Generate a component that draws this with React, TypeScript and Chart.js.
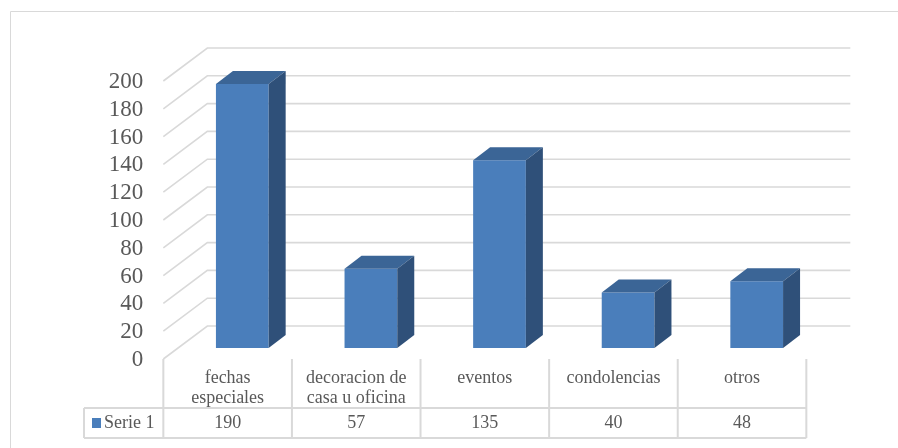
import React, { useEffect, useRef } from 'react';
import { Chart, registerables } from 'chart.js';

Chart.register(...registerables);

const categories: string[][] = [
  ['fechas', 'especiales'],
  ['decoracion de', 'casa u oficina'],
  ['eventos'],
  ['condolencias'],
  ['otros'],
];
const seriesName = 'Serie 1';
const serie1 = [190, 57, 135, 40, 48];
const yTicks = [0, 20, 40, 60, 80, 100, 120, 140, 160, 180, 200];

const FRONT_COLOR = '#4a7ebb';
const TOP_COLOR = '#3b6596';
const SIDE_COLOR = '#2f5079';
const GRID_COLOR = '#d9d9d9';
const TEXT_COLOR = '#595959';
const FONT = "'Liberation Serif', 'Times New Roman', serif";

// floor depth (front edge to back wall) and bar depth
const DX = 44;
const DY = 33;
const BAR_DX = 17;
const BAR_DY = 13;

const threeD = {
  id: 'threeD',
  beforeDatasetsDraw(chart: any) {
    const ctx = chart.ctx as CanvasRenderingContext2D;
    const xs = chart.scales.x;
    const ys = chart.scales.y;
    const fx = DX / 3;
    const fy = DY / 3;
    ctx.save();
    // outer chart border
    ctx.strokeStyle = GRID_COLOR;
    ctx.lineWidth = 1;
    ctx.beginPath();
    ctx.moveTo(10.5, 448);
    ctx.lineTo(10.5, 11.5);
    ctx.lineTo(898, 11.5);
    ctx.stroke();

    const frontLeft = xs.left - fx;
    const frontRight = xs.right - fx;
    // gridlines: diagonal on left wall + back wall
    ctx.lineWidth = 1.6;
    ctx.strokeStyle = GRID_COLOR;
    ctx.font = `23px ${FONT}`;
    ctx.fillStyle = TEXT_COLOR;
    ctx.textAlign = 'right';
    ctx.textBaseline = 'middle';
    for (const v of yTicks) {
      const yb = ys.getPixelForValue(v);
      const yf = yb + fy;
      ctx.beginPath();
      ctx.moveTo(frontLeft, yf);
      ctx.lineTo(frontLeft + DX, yf - DY);
      ctx.lineTo(frontRight + DX, yf - DY);
      ctx.stroke();
      ctx.fillText(String(v), frontLeft - 20, yf + 1);
    }

    // data table
    const colW = (xs.right - xs.left) / categories.length;
    const headTop = ys.getPixelForValue(0) + fy;
    const headBottom = headTop + 49;
    const rowBottom = headBottom + 30;
    const legendLeft = 84;
    ctx.lineWidth = 2;
    ctx.strokeStyle = GRID_COLOR;
    ctx.beginPath();
    for (let i = 0; i <= categories.length; i++) {
      const x = frontLeft + i * colW;
      ctx.moveTo(x, headTop);
      ctx.lineTo(x, rowBottom);
    }
    ctx.moveTo(legendLeft, headBottom);
    ctx.lineTo(frontRight, headBottom);
    ctx.moveTo(legendLeft, rowBottom);
    ctx.lineTo(frontRight, rowBottom);
    ctx.moveTo(legendLeft, headBottom);
    ctx.lineTo(legendLeft, rowBottom);
    ctx.stroke();

    ctx.font = `18px ${FONT}`;
    ctx.fillStyle = TEXT_COLOR;
    ctx.textAlign = 'center';
    ctx.textBaseline = 'middle';
    categories.forEach((lines, i) => {
      const cx = frontLeft + (i + 0.5) * colW;
      lines.forEach((ln, j) => {
        ctx.fillText(ln, cx, headTop + 19 + j * 20);
      });
      ctx.fillText(String(serie1[i]), cx, headBottom + 15);
    });
    // legend key
    ctx.fillStyle = FRONT_COLOR;
    ctx.fillRect(92, headBottom + 10, 9, 10);
    ctx.fillStyle = TEXT_COLOR;
    ctx.textAlign = 'left';
    ctx.fillText(seriesName, 104, headBottom + 15);
    ctx.restore();
  },
  afterDatasetsDraw(chart: any) {
    const ctx = chart.ctx as CanvasRenderingContext2D;
    const meta = chart.getDatasetMeta(0);
    ctx.save();
    meta.data.forEach((bar: any) => {
      const { x, y, base, width } = bar.getProps(['x', 'y', 'base', 'width'], true);
      const l = x - width / 2;
      const r = x + width / 2;
      // top face
      ctx.fillStyle = TOP_COLOR;
      ctx.beginPath();
      ctx.moveTo(l, y);
      ctx.lineTo(r, y);
      ctx.lineTo(r + BAR_DX, y - BAR_DY);
      ctx.lineTo(l + BAR_DX, y - BAR_DY);
      ctx.closePath();
      ctx.fill();
      // side face
      ctx.fillStyle = SIDE_COLOR;
      ctx.beginPath();
      ctx.moveTo(r, y);
      ctx.lineTo(r + BAR_DX, y - BAR_DY);
      ctx.lineTo(r + BAR_DX, base - BAR_DY);
      ctx.lineTo(r, base);
      ctx.closePath();
      ctx.fill();
    });
    ctx.restore();
  },
};

export default function App() {
  const ref = useRef<HTMLCanvasElement | null>(null);
  useEffect(() => {
    document.body.style.margin = '0';
    const canvas = ref.current;
    if (!canvas) return;
    const chart = new Chart(canvas, {
      type: 'bar',
      data: {
        labels: categories.map((c) => c.join(' ')),
        datasets: [
          {
            label: seriesName,
            data: serie1,
            backgroundColor: FRONT_COLOR,
            borderWidth: 0,
            categoryPercentage: 1,
            barPercentage: 0.41,
          },
        ],
      },
      options: {
        responsive: false,
        animation: false,
        layout: { padding: { left: 178, right: 77, top: 70, bottom: 100 } },
        plugins: { legend: { display: false }, tooltip: { enabled: false } },
        scales: {
          x: { display: false, offset: true },
          y: { display: false, min: 0, max: 200 },
        },
      },
      plugins: [threeD],
    });
    return () => chart.destroy();
  }, []);
  return (
    <div style={{ width: 898, height: 448, background: '#fff' }}>
      <canvas ref={ref} width={898} height={448} style={{ display: 'block' }} />
    </div>
  );
}
